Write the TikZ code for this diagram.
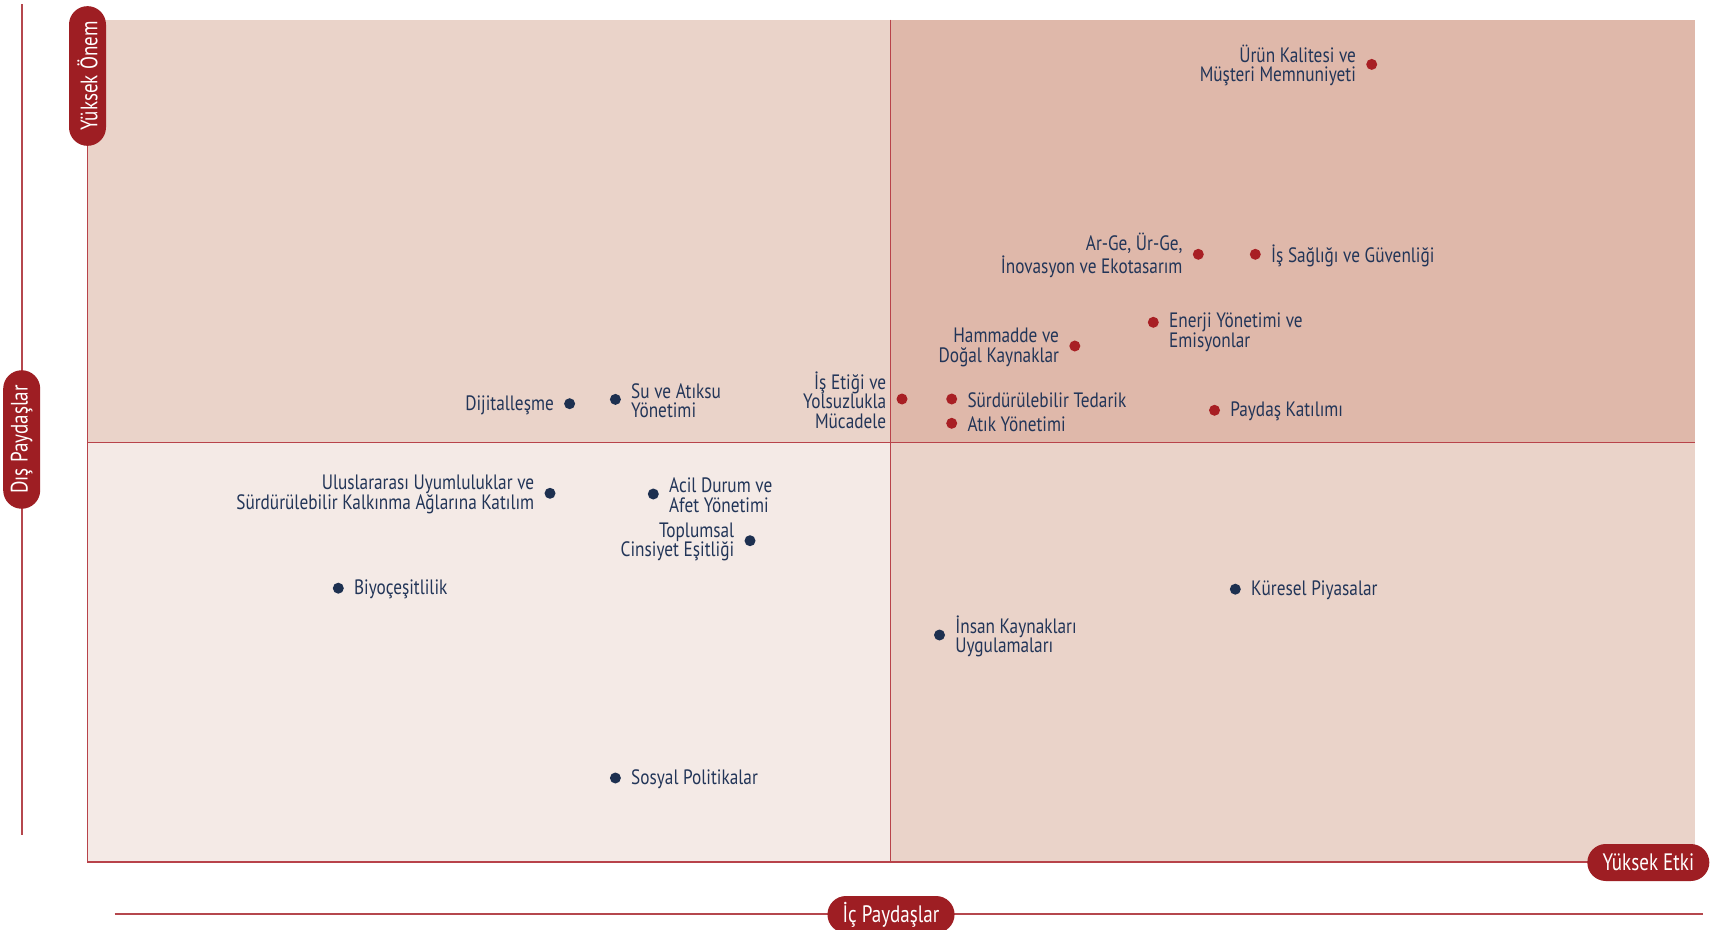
\documentclass[tikz,border=0pt]{standalone}
\usepackage{fontspec}
\setmainfont{PT Sans}[FakeStretch=0.83]
\usetikzlibrary{positioning}

\definecolor{pillred}{HTML}{9E1E23}
\definecolor{dotred}{HTML}{A81F24}
\definecolor{dotnavy}{HTML}{1D3050}
\definecolor{txtnavy}{HTML}{223558}
\definecolor{qpale}{HTML}{F4EAE6}
\definecolor{qlight}{HTML}{EAD3C9}
\definecolor{qdark}{HTML}{DFB8AA}
\definecolor{gridred}{HTML}{B8434A}
\definecolor{axisred}{HTML}{B5474D}

\begin{document}
\begin{tikzpicture}[x=0.5pt,y=-0.5pt,
reddot/.style={circle, fill=dotred, inner sep=0pt, minimum size=5.5pt},
navydot/.style={circle, fill=dotnavy, inner sep=0pt, minimum size=5.5pt},
lbl/.style={inner sep=0pt, text=txtnavy, yshift=-0.6pt, font=\fontsize{10.4}{9.8}\selectfont},
lblr/.style={lbl, align=left},
lbll/.style={lbl, align=right},
pill/.style={fill=pillred, text=white, rounded corners=9.25pt, minimum height=18.5pt, inner xsep=7.6pt, inner ysep=0pt, font=\fontsize{11.9}{12}\selectfont\addfontfeature{FakeStretch=0.8}},
]

\useasboundingbox[fill=white] (0,0) rectangle (1711,930);

% plot area
\coordinate (tl) at (87.3,19.6);
\coordinate (tm) at (890.4,19.6);
\coordinate (tr) at (1694.6,19.6);
\coordinate (ml) at (87.3,442);
\coordinate (mm) at (890.4,442);
\coordinate (mr) at (1694.6,442);
\coordinate (bl) at (87.3,862);
\coordinate (bm) at (890.4,862);
\coordinate (br) at (1694.6,862);

\fill[qlight] (tl) rectangle (mm);
\fill[qdark] (tm) rectangle (mr);
\fill[qpale] (ml) rectangle (bm);
\fill[qlight] (mm) rectangle (br);

\draw[gridred, line width=0.7pt] (tl) -- (bl) -- (br);
\draw[gridred, line width=0.5pt] (tm) -- (bm);
\draw[gridred, line width=0.5pt] (ml) -- (mr);

% axes
\coordinate (ay1) at (21.8,4.3);
\coordinate (ay2) at (21.8,835);
\coordinate (ax1) at (114.6,914);
\coordinate (ax2) at (1702.7,914);
\draw[axisred, line width=0.7pt] (ay1) -- (ay2);
\draw[axisred, line width=0.7pt] (ax1) -- (ax2);

\node[pill, rotate=90] (onem) at (87.5,76) {Yüksek Önem};
\node[pill, rotate=90] (dis) at (21.7,439.5) {Dış Paydaşlar};
\node[pill] (ic) at (891,914.5) {İç Paydaşlar};
\node[pill] (etki) at (1648.3,862.5) {Yüksek Etki};

% red topics
\node[reddot] (urun) at (1371.7,64.4) {};
\node[lbll, left=4.75pt of urun] {Ürün Kalitesi ve\\Müşteri Memnuniyeti};
\node[reddot] (arge) at (1198.3,254.3) {};
\node[lbll, left=4.75pt of arge] {Ar-Ge, Ür-Ge,\\İnovasyon ve Ekotasarım};
\node[reddot] (isg) at (1255.3,254.3) {};
\node[lblr, right=4.75pt of isg] {İş Sağlığı ve Güvenliği};
\node[reddot] (enerji) at (1153.3,322.3) {};
\node[lblr, right=4.75pt of enerji, yshift=-4.5pt] {Enerji Yönetimi ve\\Emisyonlar};
\node[reddot] (ham) at (1074.8,346) {};
\node[lbll, left=4.75pt of ham] {Hammadde ve\\Doğal Kaynaklar};
\node[reddot] (etik) at (902,399) {};
\node[lbll, left=4.75pt of etik] {İş Etiği ve\\Yolsuzlukla\\Mücadele};
\node[reddot] (tedarik) at (951.7,399) {};
\node[lblr, right=4.75pt of tedarik] {Sürdürülebilir Tedarik};
\node[reddot] (atik) at (951.7,423.3) {};
\node[lblr, right=4.75pt of atik] {Atık Yönetimi};
\node[reddot] (paydas) at (1214.5,410.3) {};
\node[lblr, right=4.75pt of paydas] {Paydaş Katılımı};

% navy topics
\node[navydot] (dijital) at (569.6,403.7) {};
\node[lbll, left=4.75pt of dijital] {Dijitalleşme};
\node[navydot] (su) at (615.4,399.4) {};
\node[lblr, right=4.75pt of su] {Su ve Atıksu\\Yönetimi};
\node[navydot] (ulus) at (550,493.3) {};
\node[lbll, left=4.75pt of ulus] {Uluslararası Uyumluluklar ve\\Sürdürülebilir Kalkınma Ağlarına Katılım};
\node[navydot] (acil) at (653.3,494) {};
\node[lblr, right=4.75pt of acil] {Acil Durum ve\\Afet Yönetimi};
\node[navydot] (cins) at (750,540.7) {};
\node[lbll, left=4.75pt of cins] {Toplumsal\\Cinsiyet Eşitliği};
\node[navydot] (biyo) at (338.3,588.2) {};
\node[lblr, right=4.75pt of biyo] {Biyoçeşitlilik};
\node[navydot] (sosyal) at (615.4,778) {};
\node[lblr, right=4.75pt of sosyal] {Sosyal Politikalar};
\node[navydot] (insan) at (939.5,635) {};
\node[lblr, right=4.75pt of insan] {İnsan Kaynakları\\Uygulamaları};
\node[navydot] (kuresel) at (1235.3,589.2) {};
\node[lblr, right=4.75pt of kuresel] {Küresel Piyasalar};
\end{tikzpicture}
\end{document}
